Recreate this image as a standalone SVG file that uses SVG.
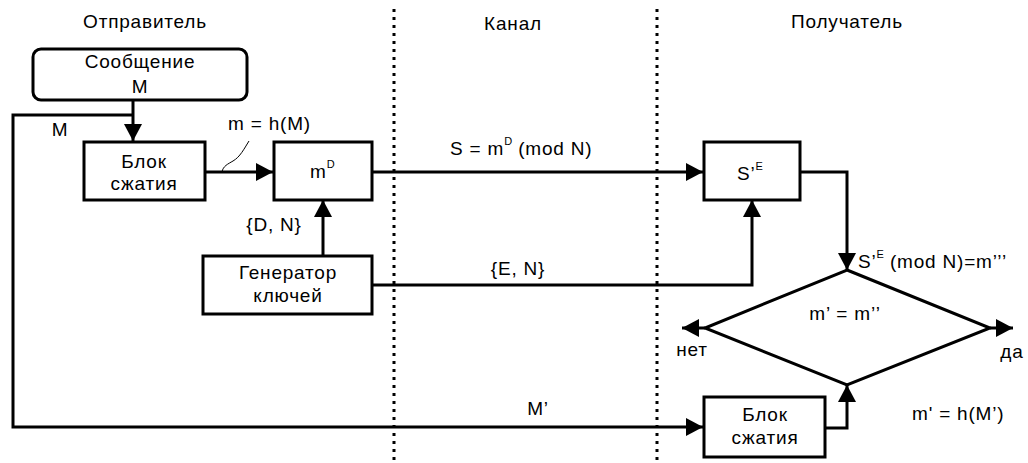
<svg xmlns="http://www.w3.org/2000/svg" width="1028" height="463" viewBox="0 0 1028 463">
  <style>
    text { font-family: "Liberation Sans", Arial, sans-serif; font-size: 19px; letter-spacing: 0.8px; fill: #000; }
    .mid { text-anchor: middle; }
    .box { fill: #fff; stroke: #000; stroke-width: 3; }
    .wire { fill: none; stroke: #000; stroke-width: 3; stroke-linejoin: miter; }
    .thin { fill: none; stroke: #000; stroke-width: 1; }
    .lane { stroke: #000; stroke-width: 3; stroke-dasharray: 3 5; }
    .sup { font-size: 11px; letter-spacing: 0; }
  </style>
  <defs>
    <marker id="arrow" markerUnits="userSpaceOnUse" markerWidth="18" markerHeight="20" refX="17" refY="10" orient="auto">
      <path d="M0,1 L17,10 L0,19 Z" fill="#000"/>
    </marker>
  </defs>

  <!-- lane separators -->
  <g id="lanes">
    <line class="lane" x1="394" y1="9" x2="394" y2="463"/>
    <line class="lane" x1="657" y1="9" x2="657" y2="463"/>
  </g>

  <!-- lane titles -->
  <g id="titles">
    <text class="mid" x="145" y="28">Отправитель</text>
    <text class="mid" x="513" y="30">Канал</text>
    <text class="mid" x="847" y="28">Получатель</text>
  </g>

  <!-- connectors -->
  <g id="connectors">
    <!-- message to compressor -->
    <path class="wire" marker-end="url(#arrow)" d="M133,100 L133,141"/>
    <!-- message bypass to receiver compressor -->
    <path class="wire" marker-end="url(#arrow)" d="M133,115 L13,115 L13,427 L703,427"/>
    <!-- hash to signer -->
    <path class="wire" marker-end="url(#arrow)" d="M205,172 L273,172"/>
    <path class="thin" d="M222,172 C223,166 228,164 233,161 C240,157 244,149 249,141"/>
    <!-- signature through channel -->
    <path class="wire" marker-end="url(#arrow)" d="M372,172 L703,172"/>
    <!-- private key -->
    <path class="wire" marker-end="url(#arrow)" d="M323,256 L323,200"/>
    <!-- public key -->
    <path class="wire" marker-end="url(#arrow)" d="M372,285 L752,285 L752,200"/>
    <!-- verification result to comparator -->
    <path class="wire" marker-end="url(#arrow)" d="M800,172 L847,172 L847,270"/>
    <!-- receiver hash to comparator -->
    <path class="wire" marker-end="url(#arrow)" d="M825,428 L847,428 L847,385"/>
    <!-- outcomes -->
    <path class="wire" marker-end="url(#arrow)" d="M705,328 L682,328"/>
    <path class="wire" marker-end="url(#arrow)" d="M990,328 L1013,328"/>
  </g>

  <!-- connector labels -->
  <g id="labels">
    <text class="mid" x="60" y="136">M</text>
    <text x="228" y="130">m = h(M)</text>
    <text class="mid" x="274" y="231">{D, N}</text>
    <text x="450" y="155">S = m<tspan class="sup" dy="-10">D</tspan><tspan dy="10"> (mod N)</tspan></text>
    <text class="mid" x="518" y="275">{E, N}</text>
    <text class="mid" x="538" y="415">M’</text>
    <text x="858" y="268">S’<tspan class="sup" dy="-10">E</tspan><tspan dy="10"> (mod N)=m’’’</tspan></text>
    <text class="mid" x="692" y="356">нет</text>
    <text class="mid" x="1012" y="358">да</text>
    <text x="912" y="420">m' = h(M’)</text>
  </g>

  <g id="message">
    <rect class="box" x="33" y="49" width="214" height="51" rx="8"/>
    <text class="mid" x="140" y="68">Сообщение</text>
    <text class="mid" x="140" y="93">M</text>
  </g>

  <g id="compressor-sender">
    <rect class="box" x="84" y="142" width="121" height="58"/>
    <text class="mid" x="144" y="168">Блок</text>
    <text class="mid" x="144" y="190">сжатия</text>
  </g>

  <g id="signer">
    <rect class="box" x="274" y="142" width="98" height="58"/>
    <text x="310" y="178">m<tspan class="sup" dy="-10">D</tspan></text>
  </g>

  <g id="verifier">
    <rect class="box" x="704" y="142" width="96" height="58"/>
    <text x="737" y="180">S’<tspan class="sup" dy="-10">E</tspan></text>
  </g>

  <g id="keygen">
    <rect class="box" x="203" y="256" width="169" height="58"/>
    <text class="mid" x="288" y="279">Генератор</text>
    <text class="mid" x="288" y="302">ключей</text>
  </g>

  <g id="comparator">
    <polygon class="box" points="847,270 990,328 847,385 705,328"/>
    <text class="mid" x="845" y="320">m’ = m’’</text>
  </g>

  <g id="compressor-receiver">
    <rect class="box" x="704" y="397" width="121" height="60"/>
    <text class="mid" x="765" y="421">Блок</text>
    <text class="mid" x="765" y="444">сжатия</text>
  </g>
</svg>
